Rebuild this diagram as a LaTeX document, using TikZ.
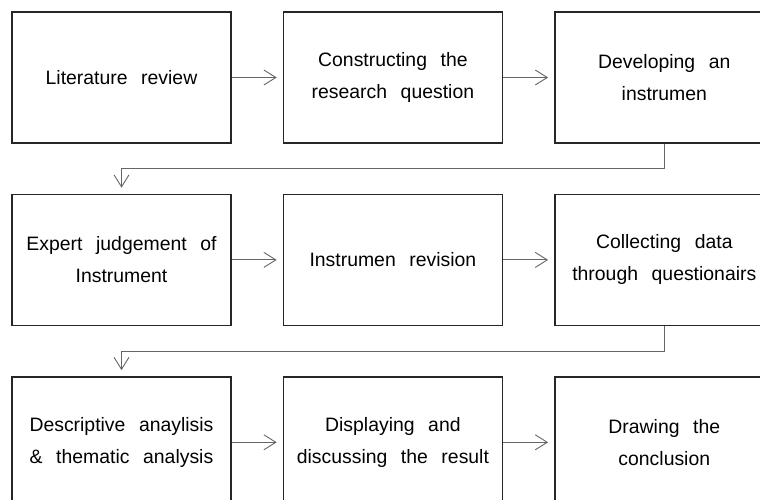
\documentclass[tikz,border=0pt]{standalone}
\usepackage{fontspec}
\setmainfont{Liberation Sans}
\usepackage{tikz}
\usetikzlibrary{arrows.meta,positioning,calc}

\begin{document}
\begin{tikzpicture}[x=1pt,y=1pt,>={Straight Barb[length=12pt,width=15pt]}]
  \clip (0,0) rectangle (760,-500);
  \tikzset{
    stage/.style={draw=black!85,line width=1.4pt,minimum width=219pt,minimum height=131pt,
      inner sep=0pt,align=center,text=black,
      font={\fontsize{19.4}{32}\selectfont\spaceskip=0.7em\relax}},
    flow/.style={->,draw=black!60,line width=0.9pt,shorten >=6pt}
  }
  % first row
  \node[stage] (lit) at (121.5,-77.5) {Literature review};
  \node[stage,right=51pt of lit] (con) {Constructing the\\research question};
  \node[stage,right=51pt of con] (dev) {Developing an\\instrumen};
  % second row
  \node[stage,below=50pt of lit] (exp) {Expert judgement of\\Instrument};
  \node[stage,right=51pt of exp] (rev) {Instrumen revision};
  \node[stage,right=51pt of rev] (col) {Collecting data\\through questionairs};
  % third row
  \node[stage,below=50pt of exp] (ana) {Descriptive anaylisis\\\& thematic analysis};
  \node[stage,right=51pt of ana] (dis) {Displaying and\\discussing the result};
  \node[stage,right=51pt of dis] (dra) {Drawing the\\conclusion};
  % arrows
  \draw[flow] (lit) -- (con);
  \draw[flow] (con) -- (dev);
  \draw[flow] (dev.south) -- ++(0,-25) -| (exp.north);
  \draw[flow] (exp) -- (rev);
  \draw[flow] (rev) -- (col);
  \draw[flow] (col.south) -- ++(0,-25) -| (ana.north);
  \draw[flow] (ana) -- (dis);
  \draw[flow] (dis) -- (dra);
\end{tikzpicture}
\end{document}
